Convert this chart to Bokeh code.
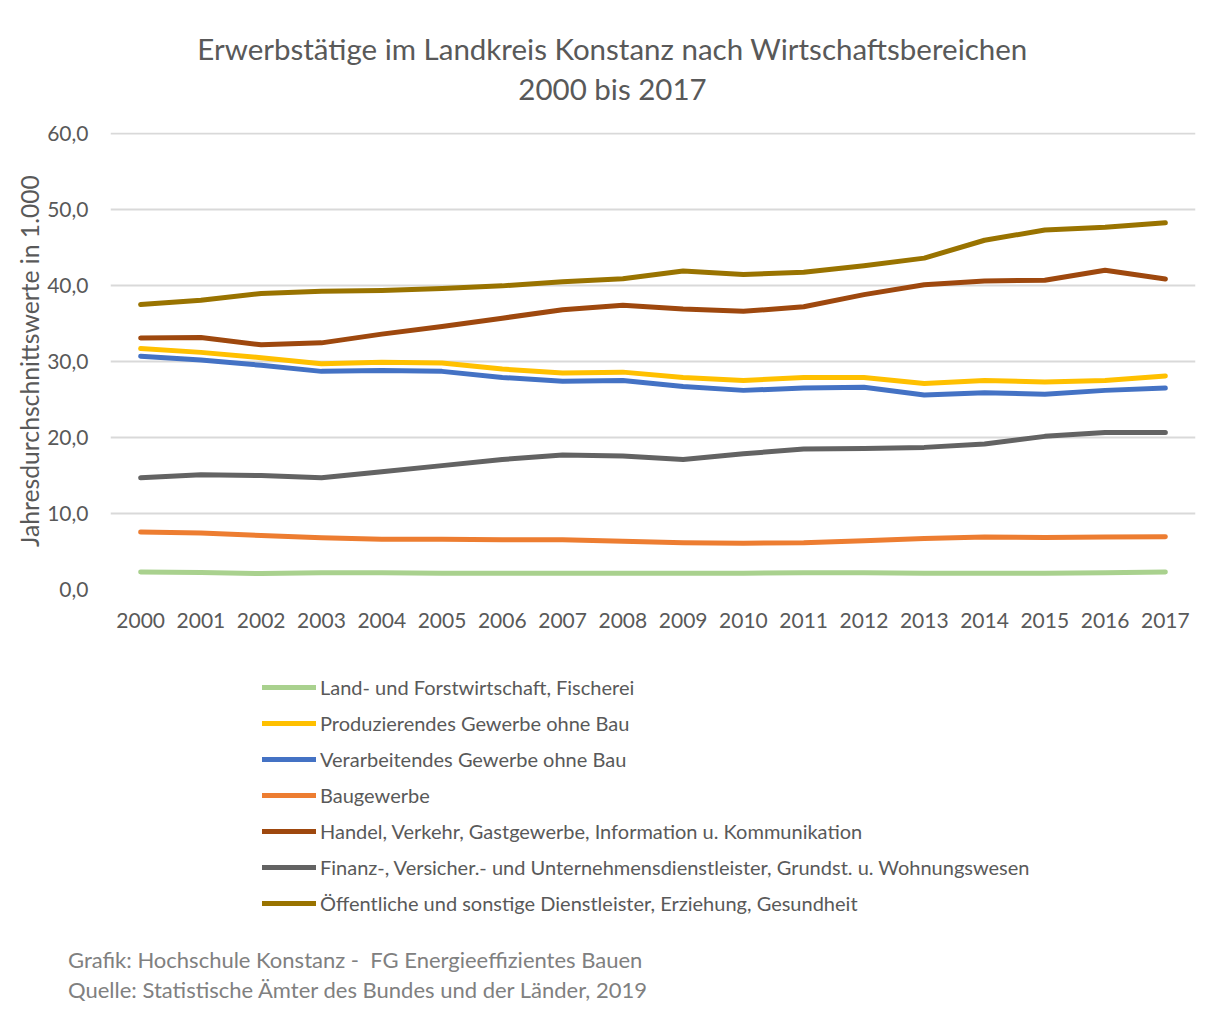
from bokeh.plotting import figure
from bokeh.models import (Legend, LegendItem, Label, FixedTicker, Range1d, Div)
from bokeh.layouts import column
from bokeh.embed import file_html
from bokeh.resources import INLINE

# ---- data ----
years = list(range(2000, 2018))
year_labels = [str(y) for y in years]
y_ticks = [0, 10, 20, 30, 40, 50, 60]
y_tick_labels = ["0,0", "10,0", "20,0", "30,0", "40,0", "50,0", "60,0"]

land = [2.3, 2.25, 2.1, 2.2, 2.2, 2.15, 2.15, 2.15, 2.15, 2.15, 2.15, 2.2, 2.2, 2.15, 2.15, 2.15, 2.2, 2.3]
produzierend = [31.7, 31.2, 30.5, 29.7, 29.9, 29.8, 29.0, 28.5, 28.6, 27.9, 27.5, 27.9, 27.9, 27.1, 27.5, 27.3, 27.5, 28.1]
verarbeitend = [30.7, 30.2, 29.5, 28.7, 28.8, 28.7, 27.9, 27.4, 27.5, 26.7, 26.2, 26.5, 26.6, 25.6, 25.9, 25.7, 26.2, 26.5]
bau = [7.55, 7.45, 7.1, 6.8, 6.6, 6.6, 6.55, 6.55, 6.35, 6.15, 6.1, 6.15, 6.4, 6.7, 6.9, 6.85, 6.9, 6.95]
handel = [33.1, 33.15, 32.2, 32.45, 33.6, 34.6, 35.7, 36.8, 37.4, 36.9, 36.6, 37.2, 38.8, 40.1, 40.6, 40.7, 42.0, 40.85]
finanz = [14.7, 15.1, 15.0, 14.7, 15.5, 16.3, 17.1, 17.7, 17.55, 17.1, 17.85, 18.5, 18.55, 18.7, 19.15, 20.15, 20.65, 20.65]
oeffentlich = [37.5, 38.05, 38.95, 39.25, 39.35, 39.6, 39.95, 40.5, 40.9, 41.9, 41.45, 41.75, 42.6, 43.6, 45.95, 47.3, 47.65, 48.25]

series_names = [
    "Land- und Forstwirtschaft, Fischerei",
    "Produzierendes Gewerbe ohne Bau",
    "Verarbeitendes Gewerbe ohne Bau",
    "Baugewerbe",
    "Handel, Verkehr, Gastgewerbe, Information u. Kommunikation",
    "Finanz-, Versicher.- und Unternehmensdienstleister, Grundst. u. Wohnungswesen",
    "Öffentliche und sonstige Dienstleister, Erziehung, Gesundheit",
]
series_values = [land, produzierend, verarbeitend, bau, handel, finanz, oeffentlich]
series_colors = ["#A9D18E", "#FFC000", "#4472C4", "#ED7D31", "#9E480E", "#636363", "#997300"]

title_lines = ["Erwerbstätige im Landkreis Konstanz nach Wirtschaftsbereichen", "2000 bis 2017"]
footer_lines = ["Grafik: Hochschule Konstanz -  FG Energieeffizientes Bauen",
                "Quelle: Statistische Ämter des Bundes und der Länder, 2019"]
y_axis_label = "Jahresdurchschnittswerte in 1.000"

FONT = "Lato"
TXT = "#595959"
W = 1207
FL, FR = 110, 12          # frame borders shared by all panels


def blank(height):
    f = figure(width=W, height=height, output_backend="svg", toolbar_location=None,
               x_range=Range1d(FL, W - FR), y_range=Range1d(0, height),
               x_axis_type=None, y_axis_type=None,
               min_border_left=FL, min_border_right=FR, min_border_top=0, min_border_bottom=0)
    f.title = None
    f.outline_line_color = None
    f.xgrid.visible = False
    f.ygrid.visible = False
    f.border_fill_color = "white"
    f.background_fill_color = "white"
    return f


# ---- title block (page y 0..110) ----
TH = 110
t = blank(TH)
for txt, py in zip(title_lines, [48, 88]):
    t.add_layout(Label(x=612, y=TH - py, text=txt, text_align="center", text_baseline="middle",
                       text_font=FONT, text_font_size="29.5px", text_color=TXT))

# ---- chart (page y 110..650) ----
CH = 540
p = figure(width=W, height=CH, output_backend="svg", toolbar_location=None,
           x_range=Range1d(1999.5, 2017.5), y_range=Range1d(0, 60.13),
           min_border_left=FL, min_border_right=FR, min_border_top=22, min_border_bottom=61)
p.title = None
p.outline_line_color = None
p.background_fill_color = "white"
p.border_fill_color = "white"
p.xgrid.grid_line_color = None
p.ygrid.grid_line_color = "#D9D9D9"
p.ygrid.grid_line_width = 2
p.ygrid.ticker = FixedTicker(ticks=y_ticks)

p.xaxis.ticker = FixedTicker(ticks=years)
p.xaxis.major_label_overrides = {y: l for y, l in zip(years, year_labels)}
p.yaxis.ticker = FixedTicker(ticks=y_ticks)
p.yaxis.major_label_overrides = {v: l for v, l in zip(y_ticks, y_tick_labels)}
for ax in (p.xaxis, p.yaxis):
    ax.axis_line_color = None
    ax.major_tick_line_color = None
    ax.minor_tick_line_color = None
    ax.major_label_text_font = FONT
    ax.major_label_text_font_size = "21px"
    ax.major_label_text_color = TXT
p.xaxis.major_label_standoff = 17
p.yaxis.major_label_standoff = 16
p.yaxis.axis_label = y_axis_label
p.yaxis.axis_label_text_font = FONT
p.yaxis.axis_label_text_font_size = "24.7px"
p.yaxis.axis_label_text_font_style = "normal"
p.yaxis.axis_label_text_color = TXT
p.yaxis.axis_label_standoff = 0

for vals, col in zip(series_values, series_colors):
    p.line(years, vals, line_color=col, line_width=5, line_cap="round", line_join="round")

# ---- legend block (page y 650..940) ----
BH = 290
b = blank(BH)
items = []
for name, vals, col in zip(series_names, series_values, series_colors):
    r = b.line(years, vals, line_color=col, line_width=5, line_cap="round", visible=False)
    items.append(LegendItem(label=name, renderers=[r]))
legend = Legend(items=items, location=(262 - FL, 940 - 915), orientation="vertical",
                glyph_width=54, glyph_height=24, label_height=24, spacing=12,
                label_standoff=4, padding=0, margin=0,
                label_text_font=FONT, label_text_font_size="20px", label_text_color=TXT,
                border_line_color=None, background_fill_alpha=0,
                inactive_fill_alpha=0)
b.add_layout(legend, "center")

# ---- footer (page y 940..1013) ----
footer_html = "<br>".join(line.replace("  ", " &nbsp;") for line in footer_lines)
footer = Div(text=footer_html, width=W, height=73, margin=0,
             styles={"font-family": "Lato", "font-size": "22px", "color": "#808080",
                     "line-height": "30px", "padding-left": "68px", "padding-top": "5px",
                     "box-sizing": "border-box", "background": "white"})

layout = column(t, p, b, footer, spacing=0)
open("out.html", "w").write(file_html(layout, INLINE))
